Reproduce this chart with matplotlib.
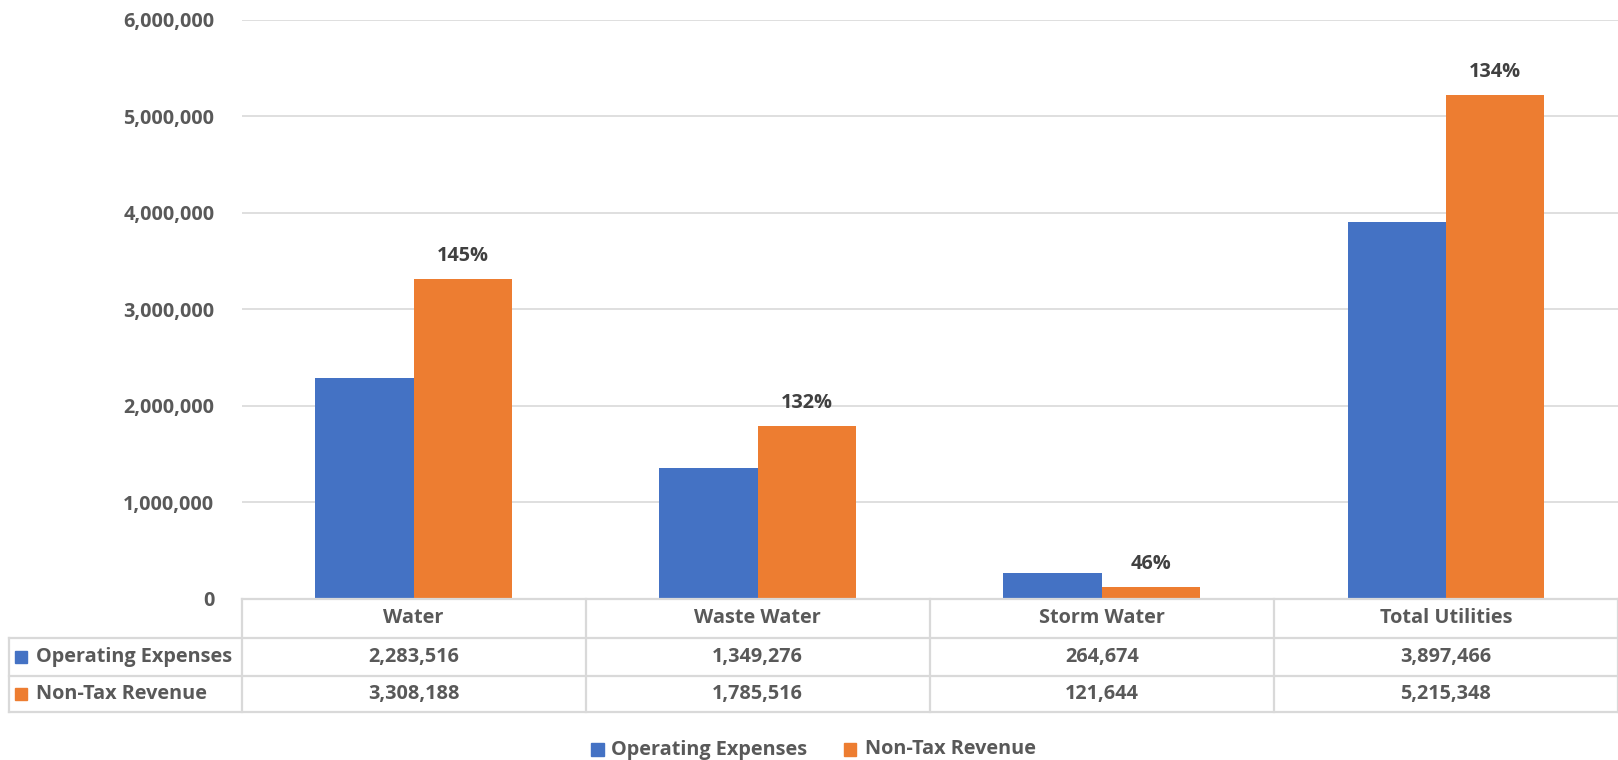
import matplotlib
matplotlib.use("Agg")
import matplotlib.pyplot as plt
from matplotlib.transforms import blended_transform_factory
from matplotlib.patches import Rectangle
from matplotlib.lines import Line2D

categories = ["Water", "Waste Water", "Storm Water", "Total Utilities"]
operating_expenses = [2283516, 1349276, 264674, 3897466]
non_tax_revenue = [3308188, 1785516, 121644, 5215348]
series_names = ["Operating Expenses", "Non-Tax Revenue"]
pct_labels = ["145%", "132%", "46%", "134%"]
y_ticks = [0, 1000000, 2000000, 3000000, 4000000, 5000000, 6000000]

BLUE = "#4472C4"
ORANGE = "#ED7D31"
TXT = "#595959"
GRID = "#D9D9D9"
FONT = "Open Sans"
FS = 14.3

W, H = 1618, 760
fig = plt.figure(figsize=(W / 100, H / 100), dpi=100)

def fx(px):
    return px / W

def fy(py):
    return 1 - py / H

left_px, right_px = 241.5, 1618
top_px, zero_px = 19.6, 598.5
ax = fig.add_axes([fx(left_px), fy(zero_px), fx(right_px - left_px), (zero_px - top_px) / H])

n = len(categories)
x = list(range(n))
bw = 1 / 3.5
ax.bar([i - bw / 2 for i in x], operating_expenses, width=bw, color=BLUE, zorder=3)
ax.bar([i + bw / 2 for i in x], non_tax_revenue, width=bw, color=ORANGE, zorder=3)

ax.set_xlim(-0.5, n - 0.5)
ax.set_ylim(0, 6000000)
ax.set_yticks(y_ticks)
ax.set_yticklabels([f"{v:,}" for v in y_ticks], fontfamily=FONT, fontweight="bold",
                   fontsize=FS, color=TXT)
ax.tick_params(axis="y", length=0, pad=19.5)
ax.set_xticks([])
ax.grid(axis="y", color=GRID, linewidth=1.2, zorder=0)
for s in ["left", "right", "top", "bottom"]:
    ax.spines[s].set_visible(False)

for i in x:
    ax.annotate(pct_labels[i], (i + bw / 2, non_tax_revenue[i]), xytext=(0, 9.5),
                textcoords="offset points", ha="center", va="bottom",
                fontfamily=FONT, fontweight="bold", fontsize=FS, color="#404040")

# data table
tr = blended_transform_factory(ax.transData, fig.transFigure)
col_px = (right_px - left_px) / n
table_left = -0.5 - (left_px - 9.3) / col_px
rows_px = [598.5, 637.7, 675.9, 712.0]
rows = [fy(p) for p in rows_px]
lw = 1.6
fig.add_artist(Line2D([-0.5, n - 0.5], [rows[0], rows[0]], transform=tr, color=GRID, lw=lw, clip_on=False))
for r in rows[1:]:
    fig.add_artist(Line2D([table_left, n - 0.5], [r, r], transform=tr, color=GRID, lw=lw, clip_on=False))
for i in range(n + 1):
    xv = i - 0.5
    fig.add_artist(Line2D([xv, xv], [rows[0], rows[3]], transform=tr, color=GRID, lw=lw, clip_on=False))
fig.add_artist(Line2D([table_left, table_left], [rows[1], rows[3]], transform=tr, color=GRID, lw=lw, clip_on=False))

tk = dict(fontfamily=FONT, fontweight="bold", fontsize=FS, color=TXT, va="center")
for i, c in enumerate(categories):
    fig.text(i, (rows[0] + rows[1]) / 2, c, transform=tr, ha="center", **tk)
    fig.text(i, (rows[1] + rows[2]) / 2, f"{operating_expenses[i]:,}", transform=tr, ha="center", **tk)
    fig.text(i, (rows[2] + rows[3]) / 2, f"{non_tax_revenue[i]:,}", transform=tr, ha="center", **tk)

sq = 12.5
for j, (name, col) in enumerate(zip(series_names, [BLUE, ORANGE])):
    yc = (rows_px[j + 1] + rows_px[j + 2]) / 2
    fig.add_artist(Rectangle((fx(14.5), fy(yc + sq / 2)), fx(sq), sq / H, transform=fig.transFigure,
                             color=col, clip_on=False))
    fig.text(fx(36.5), fy(yc), name, ha="left", **tk)

# bottom legend
ly = 749.5
for xs, xt, name, col in [(591, 611, series_names[0], BLUE), (844, 865, series_names[1], ORANGE)]:
    fig.add_artist(Rectangle((fx(xs), fy(ly + sq / 2)), fx(sq), sq / H, transform=fig.transFigure,
                             color=col, clip_on=False))
    fig.text(fx(xt), fy(ly), name, ha="left", **tk)

fig.savefig("out.png", dpi=100, facecolor="white")
